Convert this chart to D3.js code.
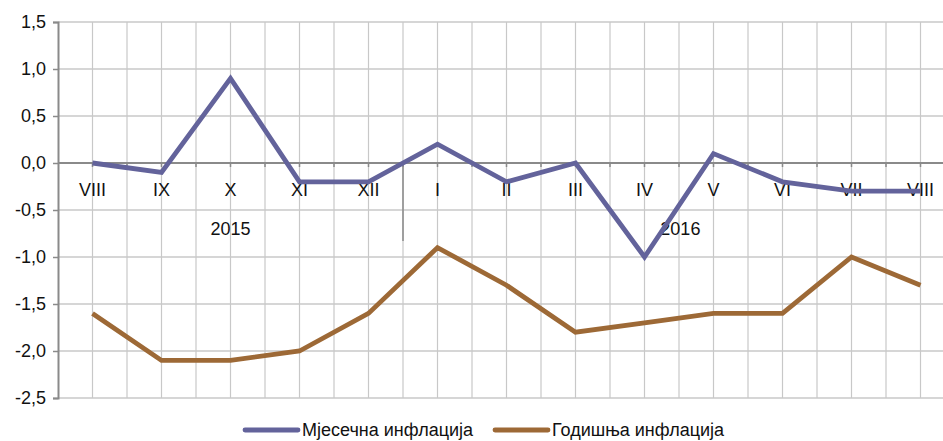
<!DOCTYPE html>
<html>
<head>
<meta charset="utf-8">
<script src="https://cdn.jsdelivr.net/npm/d3@7"></script>
<style>
  body { margin: 0; background: #fff; }
  svg { display: block; }
  text { font-family: "Liberation Sans", Arial, sans-serif; fill: #111; }
</style>
</head>
<body>
<div id="chart"></div>
<script>
const width = 943;
const height = 441;

const months = ["VIII", "IX", "X", "XI", "XII", "I", "II", "III", "IV", "V", "VI", "VII", "VIII"];
const monthly = [0.0, -0.1, 0.9, -0.2, -0.2, 0.2, -0.2, 0.0, -1.0, 0.1, -0.2, -0.3, -0.3];
const annual = [-1.6, -2.1, -2.1, -2.0, -1.6, -0.9, -1.3, -1.8, -1.7, -1.6, -1.6, -1.0, -1.3];
const yTicks = [1.5, 1.0, 0.5, 0.0, -0.5, -1.0, -1.5, -2.0, -2.5];
const years = [{ label: "2015", at: 2 }, { label: "2016", at: 8.52 }];
const seriesNames = ["Мјесечна инфлација", "Годишња инфлација"];
const colors = ["#63639b", "#9d6936"];

const plotLeft = 58, plotTop = 22, plotBottom = 398;
const step = 69;

const x = d3.scaleLinear().domain([0, 1]).range([plotLeft + step / 2, plotLeft + step * 1.5]);
const y = d3.scaleLinear().domain([-2.5, 1.5]).range([plotBottom, plotTop]);

const svg = d3.select("#chart")
    .append("svg")
    .attr("width", width)
    .attr("height", height);

// horizontal grid
svg.append("g")
    .selectAll("line")
    .data(yTicks)
    .enter()
    .append("line")
    .attr("x1", plotLeft)
    .attr("x2", width)
    .attr("y1", d => y(d))
    .attr("y2", d => y(d))
    .attr("stroke", "#c8c8c8")
    .attr("stroke-width", 1.5);

// vertical grid at every half step
const halfSteps = d3.range(-0.5, months.length + 0.5, 0.5).filter(v => x(v) > plotLeft + 1 && x(v) < width);
svg.append("g")
    .selectAll("line")
    .data(halfSteps)
    .enter()
    .append("line")
    .attr("x1", d => x(d))
    .attr("x2", d => x(d))
    .attr("y1", plotTop)
    .attr("y2", plotBottom)
    .attr("stroke", "#c8c8c8")
    .attr("stroke-width", 1.2);

// zero line with ticks
svg.append("line")
    .attr("x1", plotLeft)
    .attr("x2", width)
    .attr("y1", y(0))
    .attr("y2", y(0))
    .attr("stroke", "#8a8a8a")
    .attr("stroke-width", 2);

svg.append("g")
    .selectAll("line")
    .data(halfSteps)
    .enter()
    .append("line")
    .attr("x1", d => x(d))
    .attr("x2", d => x(d))
    .attr("y1", y(0))
    .attr("y2", y(0) + 4)
    .attr("stroke", "#8a8a8a")
    .attr("stroke-width", 1.5);

// year separator
svg.append("line")
    .attr("x1", x(4.5))
    .attr("x2", x(4.5))
    .attr("y1", y(0))
    .attr("y2", y(-0.83))
    .attr("stroke", "#8a8a8a")
    .attr("stroke-width", 1.5);

// y axis
const yAxis = svg.append("g")
    .attr("transform", `translate(${plotLeft},0)`)
    .call(d3.axisLeft(y).tickValues(yTicks).tickSize(5)
        .tickFormat(d => d3.format(".1f")(d).replace(".", ",").replace("−", "-")));
yAxis.attr("font-family", null).attr("font-size", null);
yAxis.select(".domain").attr("stroke", "#8a8a8a").attr("stroke-width", 2);
yAxis.selectAll(".tick line").attr("stroke", "#8a8a8a").attr("stroke-width", 1.5);
yAxis.selectAll(".tick text")
    .attr("x", -12)
    .attr("font-size", "18px")
    .style("fill", "#111");

// month labels
svg.append("g")
    .selectAll("text")
    .data(months)
    .enter()
    .append("text")
    .attr("x", (d, i) => x(i))
    .attr("y", y(0) + 33)
    .attr("text-anchor", "middle")
    .attr("font-size", "18px")
    .text(d => d);

// year labels
svg.append("g")
    .selectAll("text")
    .data(years)
    .enter()
    .append("text")
    .attr("x", d => x(d.at))
    .attr("y", y(0) + 72)
    .attr("text-anchor", "middle")
    .attr("font-size", "18px")
    .text(d => d.label);

// lines
const line = d3.line()
    .x((d, i) => x(i))
    .y(d => y(d));

[monthly, annual].forEach((values, k) => {
    svg.append("path")
        .datum(values)
        .attr("d", line)
        .attr("fill", "none")
        .attr("stroke", colors[k])
        .attr("stroke-width", 4.8)
        .attr("stroke-linejoin", "miter");
});

// legend
const legendX = [245, 495];
const legend = svg.append("g")
    .selectAll("g")
    .data(seriesNames)
    .enter()
    .append("g")
    .attr("transform", (d, i) => `translate(${legendX[i]},430)`);

legend.append("line")
    .attr("x1", 0)
    .attr("x2", 53)
    .attr("stroke", (d, i) => colors[i])
    .attr("stroke-width", 4.8)
    .attr("stroke-linecap", "round");

legend.append("text")
    .attr("x", 57)
    .attr("y", 6)
    .attr("font-size", "18px")
    .text(d => d);
</script>
</body>
</html>
